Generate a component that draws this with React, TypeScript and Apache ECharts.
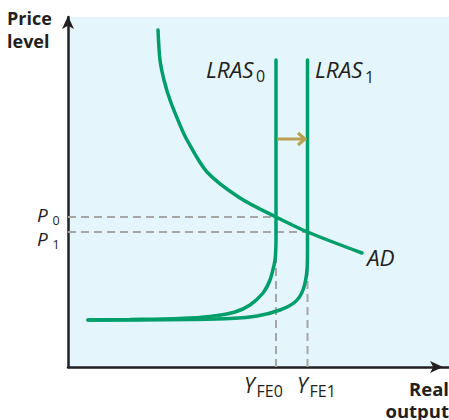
import React, { useEffect, useRef } from 'react';
import * as echarts from 'echarts';

// Data units: real output (x) and price level (y) on an arbitrary scale
const X_MAX = 381;
const Y_MAX = 350;

const adCurve: number[][] = [
  [90, 337], [92, 307], [96, 287], [102, 267], [112, 242], [119, 227],
  [139, 195], [172, 169], [208, 150], [239.5, 135], [294, 114],
];
const lras0Curve: number[][] = [
  [208, 307], [208, 127], [207.5, 112], [206.5, 104], [202, 87], [195, 74],
  [182, 62], [167, 55], [142, 50.5], [112, 48.5], [62, 47.5], [20, 47],
];
const lras1Curve: number[][] = [
  [239.5, 307], [239.5, 117], [239, 97], [235, 77], [227, 65], [212, 57],
  [189, 51], [162, 48.5], [122, 47.5], [70, 47], [20, 47],
];
const priceLevels = [150, 135]; // P0, P1
const fullEmploymentOutput = [208, 239.5]; // YFE0, YFE1
const shiftArrow = [209.5, 237, 228]; // from x, to x, at y

const INK = '#231f20';
const GREEN = '#009e6a';
const DASH = '#a6a6a6';
const OLIVE = '#b8a04e';
const FONT = '"Open Sans", "Noto Sans", sans-serif';

function txt(text: string, x: number, y: number, size: number, opts: { italic?: boolean; bold?: boolean; align?: string; verticalAlign?: string; lineHeight?: number } = {}) {
  return {
    type: 'text',
    x,
    y,
    silent: true,
    style: {
      text,
      fill: INK,
      font: `${opts.italic ? 'italic ' : ''}${opts.bold ? 'bold ' : ''}${size}px ${FONT}`,
      align: opts.align || 'left',
      verticalAlign: opts.verticalAlign || 'middle',
      lineHeight: opts.lineHeight,
    },
  };
}

export default function App() {
  const ref = useRef<HTMLDivElement>(null);
  useEffect(() => {
    if (!ref.current) return;
    const chart = echarts.init(ref.current, undefined, { renderer: 'svg' });
    const [p0, p1] = priceLevels;
    const [y0, y1] = fullEmploymentOutput;
    const dashStyle = { color: DASH, width: 2, type: [8, 5] as any };
    const dashed = (pts: number[][]) => ({
      type: 'line',
      data: pts,
      symbol: 'none',
      silent: true,
      z: 1,
      lineStyle: dashStyle,
    });
    const curve = (pts: number[][]) => ({
      type: 'line',
      data: pts,
      symbol: 'none',
      smooth: 0.3,
      silent: true,
      z: 3,
      lineStyle: { color: GREEN, width: 3.5, cap: 'round' },
    });
    chart.setOption({
      animation: false,
      grid: {
        left: 68,
        top: 17,
        right: 0,
        bottom: 53,
        show: true,
        backgroundColor: '#e4f5fc',
        borderWidth: 0,
      },
      xAxis: {
        type: 'value',
        min: 0,
        max: X_MAX,
        axisLine: {
          show: true,
          onZero: false,
          symbol: ['none', 'arrow'],
          symbolSize: [9, 13],
          symbolOffset: [0, -6],
          lineStyle: { color: INK, width: 2.5 },
        },
        axisTick: { show: false },
        axisLabel: { show: false },
        splitLine: { show: false },
      },
      yAxis: {
        type: 'value',
        min: 0,
        max: Y_MAX,
        axisLine: {
          show: true,
          onZero: false,
          symbol: ['none', 'arrow'],
          symbolSize: [9, 13],
          symbolOffset: [0, 1],
          lineStyle: { color: INK, width: 2.5 },
        },
        axisTick: { show: false },
        axisLabel: { show: false },
        splitLine: { show: false },
      },
      series: [
        dashed([[0, p0], [y0, p0]]),
        dashed([[0, p1], [y1, p1]]),
        dashed([[y0, 0], [y0, p0]]),
        dashed([[y1, 0], [y1, p1]]),
        curve(adCurve),
        curve(lras0Curve),
        curve(lras1Curve),
        {
          type: 'custom',
          silent: true,
          z: 4,
          data: [shiftArrow],
          encode: { x: [0, 1], y: 2 },
          renderItem: (_params: any, api: any) => {
            const a = api.coord([api.value(0), api.value(2)]);
            const b = api.coord([api.value(1), api.value(2)]);
            return {
              type: 'group',
              children: [
                {
                  type: 'line',
                  shape: { x1: a[0], y1: a[1], x2: b[0] - 1, y2: b[1] },
                  style: { stroke: OLIVE, lineWidth: 3 },
                },
                {
                  type: 'polyline',
                  shape: { points: [[b[0] - 7, b[1] - 6], [b[0], b[1]], [b[0] - 7, b[1] + 6]] },
                  style: { stroke: OLIVE, lineWidth: 3, fill: null, lineJoin: 'miter' },
                },
              ],
            };
          },
        },
      ],
      graphic: [
        txt('Price\nlevel', 7, 29, 18, { bold: true, lineHeight: 23 }),
        txt('Real\noutput', 449, 399, 18.5, { bold: true, align: 'right', lineHeight: 22 }),
        txt('P', 37, 214.5, 19, { italic: true }),
        txt('0', 52.5, 220.5, 12.5),
        txt('P', 37, 239, 19, { italic: true }),
        txt('1', 52.5, 244.5, 12.5),
        txt('LRAS', 206, 69, 22.5, { italic: true }),
        txt('0', 256, 75.5, 16),
        txt('LRAS', 315, 69.5, 22.5, { italic: true }),
        txt('1', 365, 76.5, 16),
        txt('AD', 367, 257, 22.5, { italic: true }),
        txt('Y', 244, 385.3, 21, { italic: true }),
        txt('FE0', 256.5, 391, 16),
        txt('Y', 297, 385.3, 21, { italic: true }),
        txt('FE1', 309.5, 391, 16),
      ],
    });
    return () => chart.dispose();
  }, []);
  return <div ref={ref} style={{ position: 'absolute', left: 0, top: 0, width: 449, height: 420 }} />;
}
